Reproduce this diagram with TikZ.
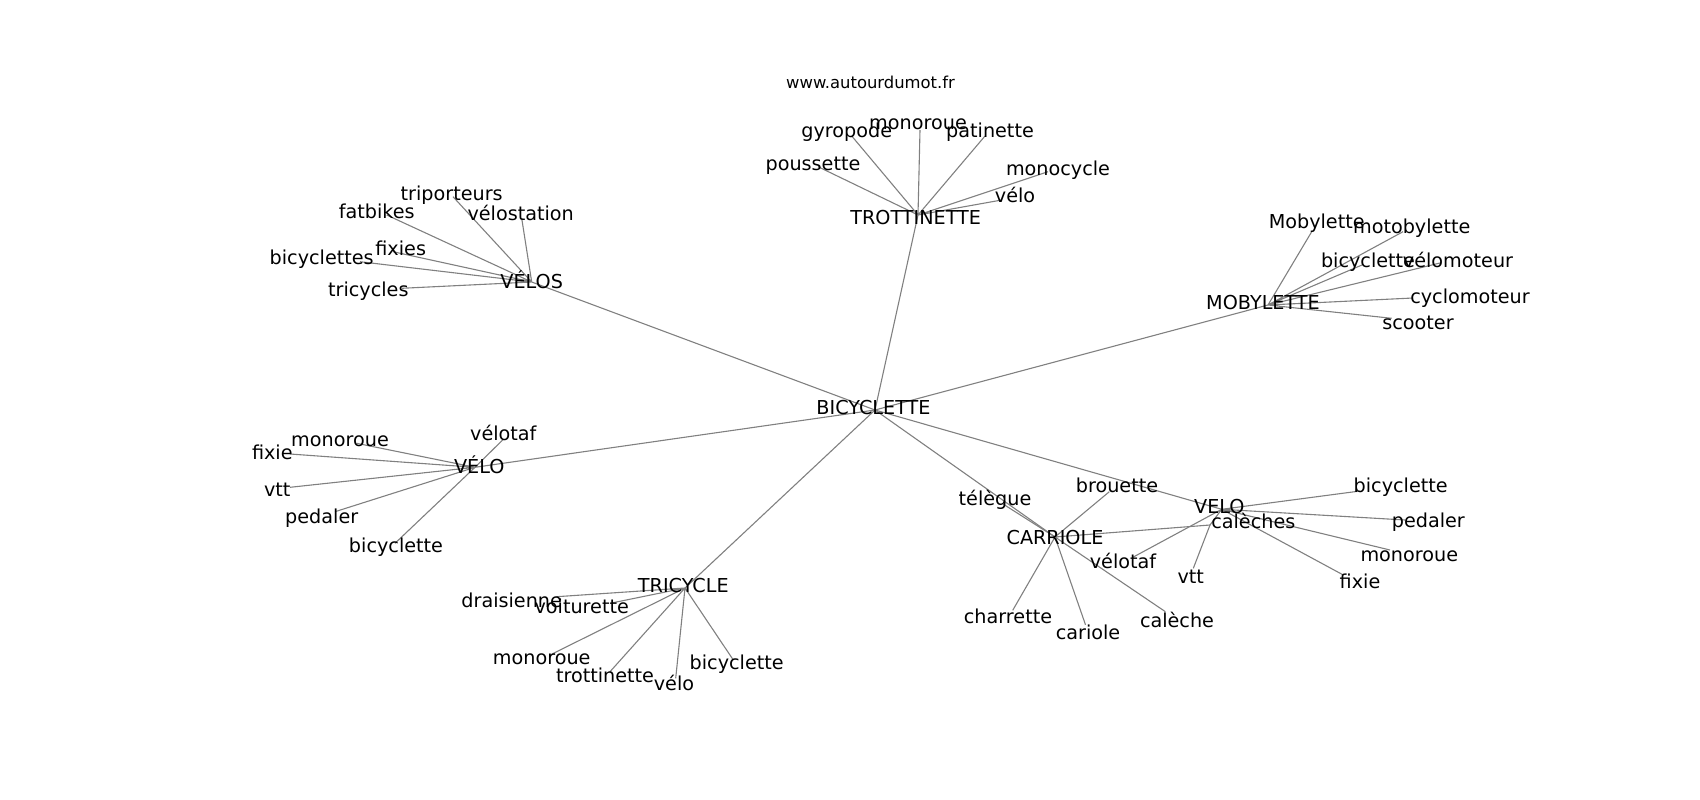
\documentclass[tikz,border=0pt]{standalone}
\usepackage{fontspec}
\setmainfont{DejaVu Sans}
\usetikzlibrary{backgrounds}

\begin{document}
\begin{tikzpicture}[
    x=1pt, y=-1pt,
    term/.style={inner sep=0pt, text height=14pt, text depth=0pt, font=\fontsize{19.2}{20}\selectfont},
    site/.style={inner sep=0pt, text height=12pt, text depth=0pt, font=\fontsize{16.4}{18}\selectfont},
    link/.style={draw=black!50, line width=1.1pt}
]
\useasboundingbox (0,0) rectangle (1700,800);

\node[site] (site) at (870.5,82.5) {www.autourdumot.fr};

% Centre
\coordinate (bic) at (875,410); \node[term] (bic-t) at (873.5,407.5) {BICYCLETTE};

% Trottinette
\coordinate (tro) at (918,215);   \node[term] (tro-t) at (915.7,217.3) {TROTTINETTE};
\coordinate (tro1) at (851.7,136); \node[term] (tro1-t) at (846.7,130) {gyropode};
\coordinate (tro2) at (920,130);   \node[term] (tro2-t) at (918,122.7) {monoroue};
\coordinate (tro3) at (985,136);   \node[term] (tro3-t) at (990,130.7) {patinette};
\coordinate (tro4) at (818,166.7); \node[term] (tro4-t) at (813,163) {poussette};
\coordinate (tro5) at (1048,171.7); \node[term] (tro5-t) at (1058,168) {monocycle};
\coordinate (tro6) at (1001.7,200); \node[term] (tro6-t) at (1015,195) {vélo};

% Vélos
\coordinate (vls) at (531.7,282);  \node[term] (vls-t) at (531.7,281) {VÉLOS};
\coordinate (vls1) at (453,196.7); \node[term] (vls1-t) at (451.7,193.3) {triporteurs};
\coordinate (vls2) at (386.7,215); \node[term] (vls2-t) at (376.7,211.7) {fatbikes};
\coordinate (vls3) at (521.7,218.3); \node[term] (vls3-t) at (520.7,213.3) {vélostation};
\coordinate (vls4) at (393,251.7); \node[term] (vls4-t) at (400.7,248.3) {fixies};
\coordinate (vls5) at (360,261.7); \node[term] (vls5-t) at (321.7,257.3) {bicyclettes};
\coordinate (vls6) at (401.7,288.3); \node[term] (vls6-t) at (368.3,289.3) {tricycles};

% Mobylette
\coordinate (mob) at (1268,305);   \node[term] (mob-t) at (1263,302.4) {MOBYLETTE};
\coordinate (mob1) at (1311.7,231.7); \node[term] (mob1-t) at (1316.7,221.7) {Mobylette};
\coordinate (mob2) at (1403,231.7); \node[term] (mob2-t) at (1411.7,226.7) {motobylette};
\coordinate (mob3) at (1362,265);  \node[term] (mob3-t) at (1368,260.7) {bicyclette};
\coordinate (mob4) at (1440,263);  \node[term] (mob4-t) at (1458,260) {vélomoteur};
\coordinate (mob5) at (1413,298);  \node[term] (mob5-t) at (1470,296) {cyclomoteur};
\coordinate (mob6) at (1391.7,318.3); \node[term] (mob6-t) at (1418,322.7) {scooter};

% Vélo (gauche)
\coordinate (vlo) at (475,467.3);  \node[term] (vlo-t) at (479.3,466) {VÉLO};
\coordinate (vlo1) at (356.7,443.3); \node[term] (vlo1-t) at (340,439.3) {monoroue};
\coordinate (vlo2) at (290,454);   \node[term] (vlo2-t) at (272.3,452.7) {fixie};
\coordinate (vlo3) at (290,487.3); \node[term] (vlo3-t) at (277.3,489.3) {vtt};
\coordinate (vlo4) at (335,511.7); \node[term] (vlo4-t) at (321.7,516) {pedaler};
\coordinate (vlo5) at (395,543.3); \node[term] (vlo5-t) at (396,545) {bicyclette};
\coordinate (vlo6) at (503.3,439.3); \node[term] (vlo6-t) at (503.3,433.3) {vélotaf};

% Tricycle
\coordinate (tri) at (685,588);    \node[term] (tri-t) at (683.3,585) {TRICYCLE};
\coordinate (tri1) at (556.7,596.7); \node[term] (tri1-t) at (511.7,600.7) {draisienne};
\coordinate (tri2) at (613,602.7); \node[term] (tri2-t) at (581.7,606.7) {voiturette};
\coordinate (tri3) at (550,655);   \node[term] (tri3-t) at (541.7,657.7) {monoroue};
\coordinate (tri4) at (610,671.7); \node[term] (tri4-t) at (605,675) {trottinette};
\coordinate (tri5) at (675.7,678.3); \node[term] (tri5-t) at (674,683.3) {vélo};
\coordinate (tri6) at (733.3,660); \node[term] (tri6-t) at (736.7,662.3) {bicyclette};

% Carriole
\coordinate (car) at (1055,537);   \node[term] (car-t) at (1055,537) {CARRIOLE};
\coordinate (car1) at (1003,504);  \node[term] (car1-t) at (995,498.5) {télègue};
\coordinate (car2) at (1109.3,491.7); \node[term] (car2-t) at (1117,485) {brouette};
\coordinate (car3) at (1012.7,610.3); \node[term] (car3-t) at (1008,616) {charrette};
\coordinate (car4) at (1085.5,624.8); \node[term] (car4-t) at (1088,632) {cariole};
\coordinate (car5) at (1165.4,611.7); \node[term] (car5-t) at (1177,620) {calèche};
\coordinate (car6) at (1210,525);  \node[term] (car6-t) at (1253.3,521.7) {calèches};

% Velo (droite)
\coordinate (vle) at (1221.7,509.3); \node[term] (vle-t) at (1219.3,506) {VELO};
\coordinate (vle1) at (1360,491);  \node[term] (vle1-t) at (1400.7,485) {bicyclette};
\coordinate (vle2) at (1405,520);  \node[term] (vle2-t) at (1428.3,520.7) {pedaler};
\coordinate (vle3) at (1390,550);  \node[term] (vle3-t) at (1409.3,554.3) {monoroue};
\coordinate (vle4) at (1343.3,575); \node[term] (vle4-t) at (1360,581.7) {fixie};
\coordinate (vle5) at (1193.3,568.3); \node[term] (vle5-t) at (1190.7,576) {vtt};
\coordinate (vle6) at (1133,557.2); \node[term] (vle6-t) at (1123,561.5) {vélotaf};

% Links
\begin{scope}[on background layer]
\draw[link] (bic) -- (tro);
\draw[link] (bic) -- (vls);
\draw[link] (bic) -- (mob);
\draw[link] (bic) -- (vlo);
\draw[link] (bic) -- (tri);
\draw[link] (bic) -- (car);
\draw[link] (bic) -- (vle);
\draw[link] (tro) -- (tro1) (tro) -- (tro2) (tro) -- (tro3) (tro) -- (tro4) (tro) -- (tro5) (tro) -- (tro6);
\draw[link] (vls) -- (vls1) (vls) -- (vls2) (vls) -- (vls3) (vls) -- (vls4) (vls) -- (vls5) (vls) -- (vls6);
\draw[link] (mob) -- (mob1) (mob) -- (mob2) (mob) -- (mob3) (mob) -- (mob4) (mob) -- (mob5) (mob) -- (mob6);
\draw[link] (vlo) -- (vlo1) (vlo) -- (vlo2) (vlo) -- (vlo3) (vlo) -- (vlo4) (vlo) -- (vlo5) (vlo) -- (vlo6);
\draw[link] (tri) -- (tri1) (tri) -- (tri2) (tri) -- (tri3) (tri) -- (tri4) (tri) -- (tri5) (tri) -- (tri6);
\draw[link] (car) -- (car1) (car) -- (car2) (car) -- (car3) (car) -- (car4) (car) -- (car5) (car) -- (car6);
\draw[link] (vle) -- (vle1) (vle) -- (vle2) (vle) -- (vle3) (vle) -- (vle4) (vle) -- (vle6) (vle) -- (car6);
\draw[link] (car6) -- (vle5);
\end{scope}

\end{tikzpicture}
\end{document}
